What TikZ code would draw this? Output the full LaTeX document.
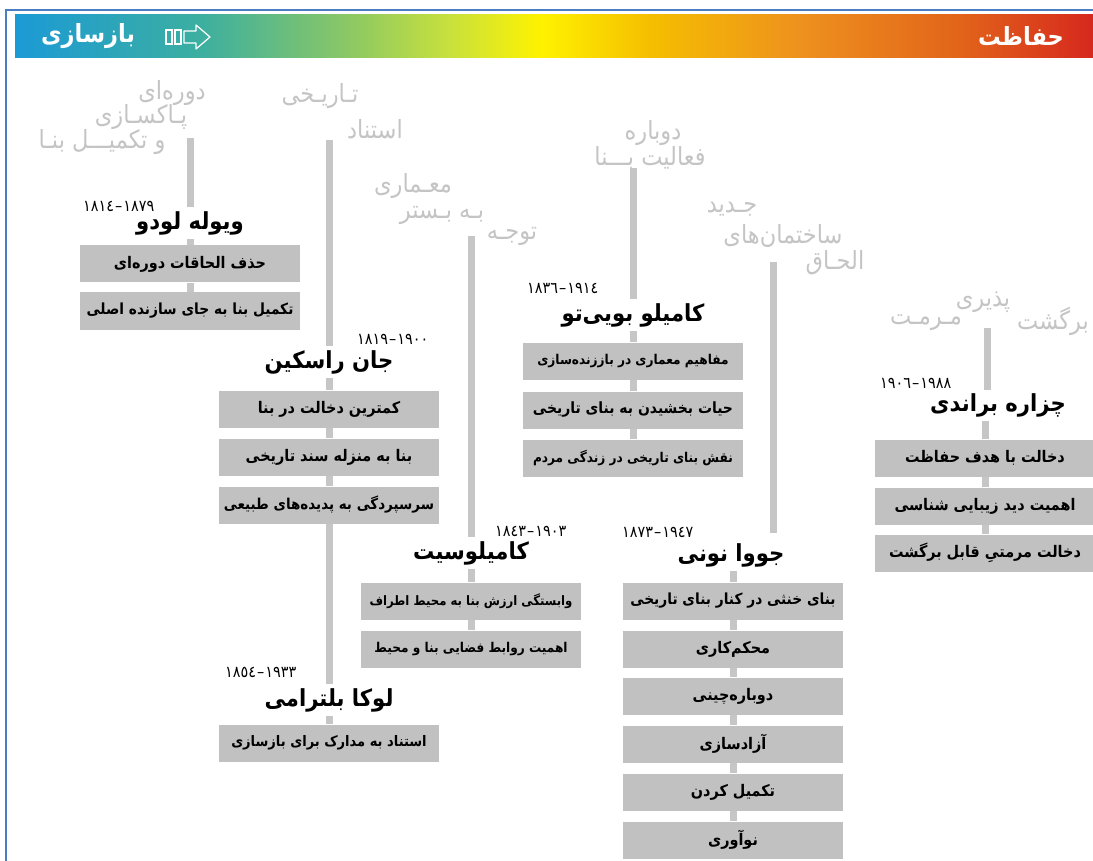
\documentclass[tikz,border=0pt]{standalone}
\usepackage{fontspec}
\usepackage{tikz}
\newfontfamily\fa[Script=Arabic,FakeStretch=0.9]{DejaVu Sans}
\TeXXeTstate=1
\newcommand\rl[1]{{\fa\beginR #1\endR}}
\newcommand\yr[2]{{\fa #1\kern1pt–\kern1pt#2}}
\definecolor{boxgray}{RGB}{193,193,193}
\definecolor{linegray}{RGB}{198,198,198}
\definecolor{headgray}{RGB}{196,196,196}
\definecolor{framecol}{RGB}{75,125,195}
\definecolor{hb1}{RGB}{27,154,214}
\definecolor{hb2}{RGB}{60,175,160}
\definecolor{hb3}{RGB}{140,200,100}
\definecolor{hb4}{RGB}{200,225,60}
\definecolor{hb5}{RGB}{255,242,0}
\definecolor{hb6}{RGB}{245,190,0}
\definecolor{hb7}{RGB}{238,145,30}
\definecolor{hb8}{RGB}{226,100,26}
\definecolor{hb9}{RGB}{214,40,30}
\pgfdeclarehorizontalshading{barshade}{100bp}{color(0bp)=(hb1); color(25bp)=(hb1);
  color(33.6bp)=(hb2); color(40.5bp)=(hb3); color(45.2bp)=(hb4); color(49.4bp)=(hb5);
  color(54.5bp)=(hb6); color(61.4bp)=(hb7); color(68.8bp)=(hb8); color(75bp)=(hb9);
  color(100bp)=(hb9)}

\begin{document}
\begin{tikzpicture}[x=1pt,y=-1pt,
  bx/.style={fill=boxgray,minimum width=220pt,minimum height=37pt,inner sep=0pt,font=\fontsize{16}{18}\selectfont\bfseries},
  bxs/.style={bx,font=\fontsize{13.5}{15}\selectfont\bfseries},
  nm/.style={inner sep=4pt,font=\fontsize{23.5}{26}\selectfont\bfseries},
  dt/.style={anchor=west,inner sep=0pt,font=\fontsize{16}{18}\selectfont},
  hd/.style={text=headgray,inner sep=0pt,font=\fontsize{25}{27}\selectfont},
  ln/.style={draw=linegray,line width=7pt}]
\useasboundingbox (0,0) rectangle (1093,861);

% frame and colour bar
\draw[framecol,line width=1.5pt] (6,861) -- (6,10) -- (1093,10);
\shade[shading=barshade] (15,15) rectangle (1093,58);
\node[text=white,font=\fontsize{25}{27}\selectfont\bfseries] (bz) at (88,36) {\rl{بازسازی}};
\node[text=white,font=\fontsize{25}{27}\selectfont\bfseries] (hf) at (1021,36) {\rl{حفاظت}};
\draw[white,line width=1.2pt] (166,30) rectangle (172,44) (175,30) rectangle (181,44);
\draw[white,line width=1.2pt,line join=round] (184,31) -- (196,31) -- (196,25) -- (210,37)
  -- (196,49) -- (196,43) -- (184,43) -- cycle;

% Viollet-le-Duc
\node[hd] (hv1) at (172,93) {\rl{دوره‌ای}};
\node[hd] (hv2) at (141,117) {\rl{پـاکسـازی}};
\node[hd] (hv3) at (102,142) {\rl{و تکمیـــل بنـا}};
\coordinate (tv) at (190,138);
\node[dt] (dv) at (83,206) {\yr{١٨١٤}{١٨٧٩}};
\node[nm] (v0) at (190,223) {\rl{ویوله لودو}};
\node[bx] (v1) at (190,264) {\rl{حذف الحاقات دوره‌ای}};
\node[bx,font=\fontsize{15.3}{17}\selectfont\bfseries] (v2) at (190,311) {\rl{تکمیل بنا به جای سازنده اصلی}};
\draw[ln] (tv) -- (v0) -- (v1) -- (v2);

% Ruskin, Beltrami
\node[hd] (hr1) at (320,96) {\rl{تـاریـخی}};
\node[hd] (hr2) at (375,129) {\rl{استناد}};
\coordinate (tr) at (329,140);
\node[dt] (dr) at (357,339) {\yr{١٨١٩}{١٩٠٠}};
\node[nm] (r0) at (329,362) {\rl{جان راسکین}};
\node[bx] (r1) at (329,409) {\rl{کمترین دخالت در بنا}};
\node[bx] (r2) at (329,457) {\rl{بنا به منزله سند تاریخی}};
\node[bx,font=\fontsize{15}{17}\selectfont\bfseries] (r3) at (329,505) {\rl{سرسپردگی به پدیده‌های طبیعی}};
\node[dt] (dl) at (225,672) {\yr{١٨٥٤}{١٩٣٣}};
\node[nm] (l0) at (329,700) {\rl{لوکا بلترامی}};
\node[bx,font=\fontsize{14.5}{16}\selectfont\bfseries] (l1) at (329,743) {\rl{استناد به مدارک برای بازسازی}};
\draw[ln] (tr) -- (r0) -- (r1) -- (r2) -- (r3) -- (l0) -- (l1);

% Sitte
\node[hd] (hs1) at (413,186) {\rl{معـماری}};
\node[hd] (hs2) at (442,215) {\rl{بـه بـستر}};
\node[hd] (hs3) at (512,236) {\rl{توجـه}};
\coordinate (ts) at (471,236);
\node[dt] (ds) at (495,531) {\yr{١٨٤٣}{١٩٠٣}};
\node[nm] (s0) at (471,553) {\rl{کامیلوسیت}};
\node[bxs,font=\fontsize{13}{15}\selectfont\bfseries] (s1) at (471,601) {\rl{وابستگی ارزش بنا به محیط اطراف}};
\node[bxs] (s2) at (471,649) {\rl{اهمیت روابط فضایی بنا و محیط}};
\draw[ln] (ts) -- (s0) -- (s1) -- (s2);

% Boito
\node[hd] (hc1) at (653,133) {\rl{دوباره}};
\node[hd] (hc2) at (650,158) {\rl{فعالیت بـــنا}};
\coordinate (tc) at (633,168);
\node[dt] (dc) at (527,288) {\yr{١٨٣٦}{١٩١٤}};
\node[nm] (c0) at (633,315) {\rl{کامیلو بویی‌تو}};
\node[bxs] (c1) at (633,361) {\rl{مفاهیم معماری در باززنده‌سازی}};
\node[bx,font=\fontsize{15.5}{17}\selectfont\bfseries] (c2) at (633,410) {\rl{حیات بخشیدن به بنای تاریخی}};
\node[bxs] (c3) at (633,458) {\rl{نقش بنای تاریخی در زندگی مردم}};
\draw[ln] (tc) -- (c0) -- (c1) -- (c2) -- (c3);

% Giovannoni
\node[hd] (hg1) at (732,209) {\rl{جـدید}};
\node[hd] (hg2) at (783,236) {\rl{ساختمان‌های}};
\node[hd] (hg3) at (835,263) {\rl{الحـاق}};
\coordinate (tg) at (773,262);
\coordinate (eg) at (773,533);
\node[dt] (dg) at (622,532) {\yr{١٨٧٣}{١٩٤٧}};
\node[nm] (g0) at (731,555) {\rl{جووا نونی}};
\node[bx,font=\fontsize{15.3}{17}\selectfont\bfseries] (g1) at (733,601) {\rl{بنای خنثی در کنار بنای تاریخی}};
\node[bx] (g2) at (733,649) {\rl{محکم‌کاری}};
\node[bx] (g3) at (733,696) {\rl{دوباره‌چینی}};
\node[bx] (g4) at (733,744) {\rl{آزادسازی}};
\node[bx] (g5) at (733,792) {\rl{تکمیل کردن}};
\node[bx] (g6) at (733,840) {\rl{نوآوری}};
\draw[ln] (tg) -- (eg);
\draw[ln] (g0.south -| g1.north) -- (g1) -- (g2) -- (g3) -- (g4) -- (g5) -- (g6);

% Brandi
\node[hd] (hz1) at (983,302) {\rl{پذیری}};
\node[hd] (hz2) at (926,323) {\rl{مـرمـت}};
\node[hd] (hz3) at (1053,321) {\rl{برگشت}};
\coordinate (tz) at (987,328);
\coordinate (ez) at (987,390);
\node[dt] (dz) at (880,383) {\yr{١٩٠٦}{١٩٨٨}};
\node[nm] (z0) at (998,405) {\rl{چزاره براندی}};
\node[bx] (z1) at (985,458) {\rl{دخالت با هدف حفاظت}};
\node[bx] (z2) at (985,506) {\rl{اهمیت دید زیبایی شناسی}};
\node[bx] (z3) at (985,553) {\rl{دخالت مرمتیِ قابل برگشت}};
\draw[ln] (tz) -- (ez);
\draw[ln] (z0.south -| z1.north) -- (z1) -- (z2) -- (z3);
\end{tikzpicture}
\end{document}
